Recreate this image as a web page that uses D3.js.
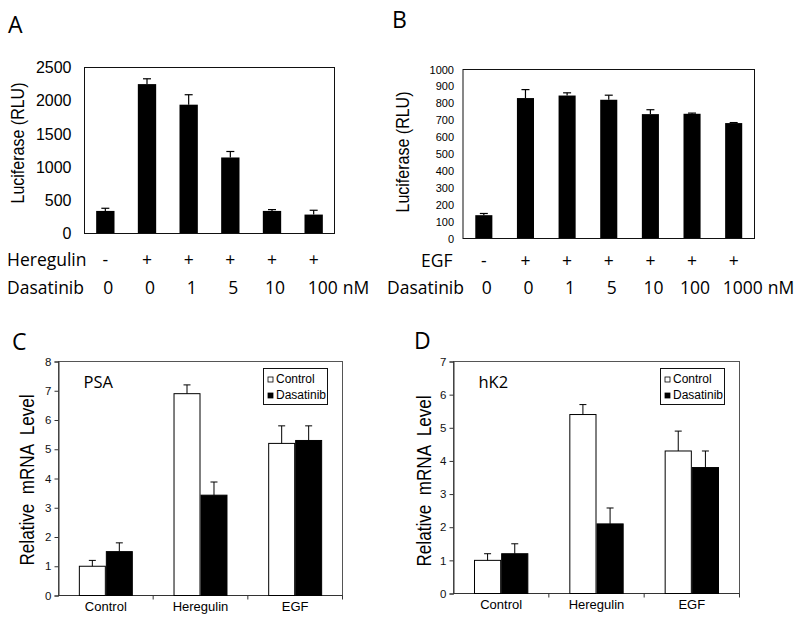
<!DOCTYPE html>
<html><head><meta charset="utf-8">
<script src="https://cdn.jsdelivr.net/npm/d3@7"></script>
<style>
body{margin:0;background:#fff}
svg{display:block}
</style></head><body>
<svg id="fig" width="800" height="625"></svg>
<script>
// ---------- Panel A ----------
const aHeregulin = ["-", "+", "+", "+", "+", "+"];
const aDasatinib = ["0", "0", "1", "5", "10", "100"];
const aValues = [340, 2250, 1940, 1145, 340, 285];
const aErrors = [40, 80, 150, 90, 20, 65];
const aTicks = [0, 500, 1000, 1500, 2000, 2500];
// ---------- Panel B ----------
const bEGF = ["-", "+", "+", "+", "+", "+", "+"];
const bDasatinib = ["0", "0", "1", "5", "10", "100", "1000"];
const bValues = [138, 831, 846, 821, 736, 738, 683];
const bErrors = [10, 50, 16, 27, 26, 4, 3];
const bTicks = [0, 100, 200, 300, 400, 500, 600, 700, 800, 900, 1000];
// ---------- Panels C & D ----------
const groups = ["Control", "Heregulin", "EGF"];
const seriesNames = ["Control", "Dasatinib"];
const cControl = [1.0, 6.9, 5.2];
const cControlErr = [0.2, 0.3, 0.6];
const cDasatinib = [1.5, 3.43, 5.3];
const cDasatinibErr = [0.3, 0.45, 0.5];
const cTicks = [0, 1, 2, 3, 4, 5, 6, 7, 8];
const dControl = [1.0, 5.4, 4.3];
const dControlErr = [0.2, 0.3, 0.6];
const dDasatinib = [1.2, 2.1, 3.8];
const dDasatinibErr = [0.3, 0.48, 0.5];
const dTicks = [0, 1, 2, 3, 4, 5, 6, 7];

const ARIAL = '"Liberation Sans", Arial, sans-serif';
const MYRIAD = '"Open Sans", "Noto Sans", sans-serif';

const svg = d3.select("#fig");
svg.append("rect").attr("width", 800).attr("height", 625).attr("fill", "#fff");

function letter(t, x, y) {
  svg.append("text").attr("x", x).attr("y", y).text(t)
    .attr("font-family", MYRIAD).attr("font-size", 23).attr("fill", "#000");
}

function simplePanel(cfg) {
  const g = svg.append("g");
  const cats = cfg.values.map((d, i) => String(i));
  const x = d3.scaleBand().domain(cats).range([cfg.left, cfg.right])
    .paddingInner(cfg.pad).paddingOuter(cfg.pad / 2);
  const y = d3.scaleLinear().domain([0, d3.max(cfg.ticks)]).range([cfg.bottom, cfg.top]);

  const ax = g.append("g").attr("transform", `translate(${cfg.left},0)`)
    .call(d3.axisLeft(y).tickValues(cfg.ticks).tickSize(0).tickPadding(cfg.tickPad).tickFormat(d3.format("d")));
  ax.select(".domain").remove();
  ax.selectAll("text").attr("font-family", ARIAL).attr("font-size", cfg.tickFont).attr("fill", "#000");

  g.selectAll("rect.bar").data(cfg.values).join("rect").attr("class", "bar")
    .attr("x", (d, i) => x(cats[i])).attr("width", x.bandwidth())
    .attr("y", d => y(d)).attr("height", d => cfg.bottom - y(d)).attr("fill", "#000");

  const eb = g.selectAll("g.err").data(cfg.values).join("g").attr("class", "err");
  eb.append("line")
    .attr("x1", (d, i) => x(cats[i]) + x.bandwidth() / 2).attr("x2", (d, i) => x(cats[i]) + x.bandwidth() / 2)
    .attr("y1", d => y(d)).attr("y2", (d, i) => y(d + cfg.errors[i]))
    .attr("stroke", "#000").attr("stroke-width", 1.2);
  eb.append("line")
    .attr("x1", (d, i) => x(cats[i]) + x.bandwidth() / 2 - 4).attr("x2", (d, i) => x(cats[i]) + x.bandwidth() / 2 + 4)
    .attr("y1", (d, i) => y(d + cfg.errors[i])).attr("y2", (d, i) => y(d + cfg.errors[i]))
    .attr("stroke", "#000").attr("stroke-width", 1.2);

  g.append("rect").attr("x", cfg.left).attr("y", cfg.top)
    .attr("width", cfg.right - cfg.left).attr("height", cfg.bottom - cfg.top)
    .attr("fill", "none").attr("stroke", "#111").attr("stroke-width", 1);

  g.append("text").attr("transform", `translate(${cfg.ylabX},${cfg.ylabY}) rotate(-90)`)
    .attr("text-anchor", "middle").attr("font-family", ARIAL).attr("font-size", 18)
    .attr("textLength", 121).attr("lengthAdjust", "spacingAndGlyphs")
    .attr("fill", "#000").text("Luciferase (RLU)");

  // treatment rows
  g.append("text").attr("x", cfg.row1X).attr("y", cfg.row1Y).text(cfg.row1Name)
    .attr("font-family", MYRIAD).attr("font-size", 17.5).attr("fill", "#000");
  g.append("text").attr("x", cfg.row2X).attr("y", cfg.row2Y).text("Dasatinib")
    .attr("font-family", MYRIAD).attr("font-size", 17.5).attr("fill", "#000");
  g.selectAll("text.r1").data(cfg.row1).join("text").attr("class", "r1")
    .attr("x", (d, i) => x(cats[i]) + x.bandwidth() / 2).attr("y", cfg.row1Y)
    .attr("text-anchor", "middle").attr("font-family", MYRIAD).attr("font-size", 17.5)
    .attr("fill", "#000").text(d => d);
  const last = cfg.row2.length - 1;
  g.selectAll("text.r2").data(cfg.row2).join("text").attr("class", "r2")
    .attr("x", (d, i) => x(cats[i]) + x.bandwidth() / 2 + (i === last ? 9 : 3)).attr("y", cfg.row2Y)
    .attr("text-anchor", "middle").attr("font-family", MYRIAD).attr("font-size", 17.5)
    .attr("fill", "#000").text(d => d);
  const lastX = x(cats[last]) + x.bandwidth() / 2 + 9;
  const lastW = g.select("text.r2:last-of-type").node().getComputedTextLength();
  g.append("text").attr("x", lastX + lastW / 2 + 5).attr("y", cfg.row2Y).text("nM")
    .attr("font-family", MYRIAD).attr("font-size", 17.5).attr("fill", "#000");
}

function groupedPanel(cfg) {
  const g = svg.append("g");
  const x0 = d3.scaleBand().domain(groups).range([cfg.left, cfg.right]).paddingInner(0.43).paddingOuter(0.215);
  const x1 = d3.scaleBand().domain(seriesNames).range([0, x0.bandwidth()]);
  const y = d3.scaleLinear().domain([0, d3.max(cfg.ticks)]).range([cfg.bottom, cfg.top]);
  const stroke = "#333";

  g.append("rect").attr("x", cfg.left).attr("y", cfg.top)
    .attr("width", cfg.right - cfg.left).attr("height", cfg.bottom - cfg.top)
    .attr("fill", "none").attr("stroke", "#555").attr("stroke-width", 1);

  const ay = g.append("g").attr("transform", `translate(${cfg.left},0)`)
    .call(d3.axisLeft(y).tickValues(cfg.ticks).tickSize(4).tickPadding(3).tickFormat(d3.format("d")));
  ay.select(".domain").attr("stroke", stroke);
  ay.selectAll("line").attr("stroke", stroke);
  ay.selectAll("text").attr("font-family", ARIAL).attr("font-size", 11.5).attr("fill", "#111");

  g.append("line").attr("x1", cfg.left).attr("x2", cfg.right).attr("y1", cfg.bottom).attr("y2", cfg.bottom)
    .attr("stroke", stroke);
  g.selectAll("line.bt").data(groups).join("line").attr("class", "bt")
    .attr("x1", d => x0(d) + x0.bandwidth() / 2 + x0.step() / 2)
    .attr("x2", d => x0(d) + x0.bandwidth() / 2 + x0.step() / 2)
    .attr("y1", cfg.bottom).attr("y2", cfg.bottom + 4).attr("stroke", stroke);
  g.selectAll("text.gl").data(groups).join("text").attr("class", "gl")
    .attr("x", d => x0(d) + x0.bandwidth() / 2).attr("y", cfg.bottom + 15)
    .attr("text-anchor", "middle").attr("font-family", ARIAL).attr("font-size", 13)
    .attr("fill", "#000").text(d => d);

  const series = [
    { name: "Control", vals: cfg.control, errs: cfg.controlErr, fill: "#fff" },
    { name: "Dasatinib", vals: cfg.dasatinib, errs: cfg.dasatinibErr, fill: "#000" }
  ];
  series.forEach(s => {
    const sg = g.append("g");
    sg.selectAll("rect").data(s.vals).join("rect")
      .attr("x", (d, i) => x0(groups[i]) + x1(s.name) + 0.5).attr("width", x1.bandwidth() - 1)
      .attr("y", d => y(d)).attr("height", d => cfg.bottom - y(d))
      .attr("fill", s.fill).attr("stroke", "#000").attr("stroke-width", 1);
    sg.selectAll("line.v").data(s.vals).join("line").attr("class", "v")
      .attr("x1", (d, i) => x0(groups[i]) + x1(s.name) + x1.bandwidth() / 2)
      .attr("x2", (d, i) => x0(groups[i]) + x1(s.name) + x1.bandwidth() / 2)
      .attr("y1", d => y(d)).attr("y2", (d, i) => y(d + s.errs[i])).attr("stroke", "#000");
    sg.selectAll("line.c").data(s.vals).join("line").attr("class", "c")
      .attr("x1", (d, i) => x0(groups[i]) + x1(s.name) + x1.bandwidth() / 2 - 3.5)
      .attr("x2", (d, i) => x0(groups[i]) + x1(s.name) + x1.bandwidth() / 2 + 3.5)
      .attr("y1", (d, i) => y(d + s.errs[i])).attr("y2", (d, i) => y(d + s.errs[i])).attr("stroke", "#000");
  });

  g.append("text").attr("x", cfg.left + 25).attr("y", cfg.top + 26).text(cfg.gene)
    .attr("font-family", MYRIAD).attr("font-size", 16.5).attr("fill", "#000");

  const lx = cfg.right - 79, ly = cfg.top + 7;
  const lg = g.append("g");
  lg.append("rect").attr("x", lx).attr("y", ly).attr("width", 64).attr("height", 36)
    .attr("fill", "#fff").attr("stroke", "#111").attr("stroke-width", 1);
  seriesNames.forEach((n, i) => {
    lg.append("rect").attr("x", lx + 4.5).attr("y", ly + 8.5 + i * 16).attr("width", 5).attr("height", 5)
      .attr("fill", i === 0 ? "#fff" : "#000").attr("stroke", "#000").attr("stroke-width", 0.8);
    lg.append("text").attr("x", lx + 12.5).attr("y", ly + 14 + i * 16).text(n)
      .attr("font-family", ARIAL).attr("font-size", 12).attr("fill", "#000");
  });

  g.append("text").attr("transform", `translate(${cfg.ylabX},${cfg.ylabY}) rotate(-90)`)
    .attr("text-anchor", "middle").attr("font-family", ARIAL).attr("font-size", 21)
    .attr("textLength", 171).attr("lengthAdjust", "spacingAndGlyphs")
    .attr("fill", "#000").style("white-space", "pre").text("Relative  mRNA  Level");
}

letter("A", 8, 33);
letter("B", 392, 28);
letter("C", 12, 350);
letter("D", 414, 349);

simplePanel({
  left: 84.5, right: 334.5, top: 67.5, bottom: 233.5, pad: 0.56,
  values: aValues, errors: aErrors, ticks: aTicks, tickFont: 16, tickPad: 13,
  ylabX: 24, ylabY: 143,
  row1Name: "Heregulin", row1: aHeregulin, row1X: 7, row1Y: 266,
  row2: aDasatinib, row2X: 7, row2Y: 294
});

simplePanel({
  left: 463, right: 754.5, top: 69.5, bottom: 238.5, pad: 0.59,
  values: bValues, errors: bErrors, ticks: bTicks, tickFont: 11, tickPad: 9,
  ylabX: 409, ylabY: 152,
  row1Name: "EGF", row1: bEGF, row1X: 421, row1Y: 267,
  row2: bDasatinib, row2X: 387, row2Y: 294
});

groupedPanel({
  left: 58.5, right: 342.5, top: 361.5, bottom: 595.5, ticks: cTicks, gene: "PSA",
  control: cControl, controlErr: cControlErr, dasatinib: cDasatinib, dasatinibErr: cDasatinibErr,
  ylabX: 33.5, ylabY: 480
});

groupedPanel({
  left: 453.5, right: 739.5, top: 361.5, bottom: 593.5, ticks: dTicks, gene: "hK2",
  control: dControl, controlErr: dControlErr, dasatinib: dDasatinib, dasatinibErr: dDasatinibErr,
  ylabX: 431, ylabY: 481
});
</script>
</body></html>
